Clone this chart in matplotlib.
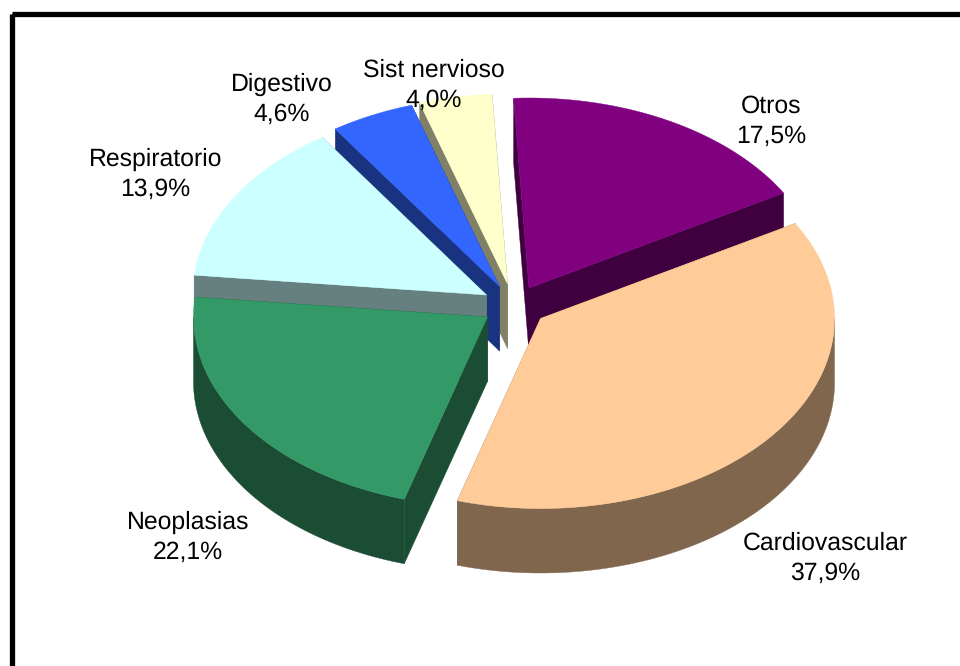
import numpy as np
import matplotlib
matplotlib.use("Agg")
import matplotlib.pyplot as plt
from matplotlib.patches import Polygon, Rectangle

plt.rcParams["text.hinting"] = "none"

categories = ["Otros", "Cardiovascular", "Neoplasias", "Respiratorio", "Digestivo", "Sist nervioso"]
values = [17.5, 37.9, 22.1, 13.9, 4.6, 4.0]
value_labels = ["17,5%", "37,9%", "22,1%", "13,9%", "4,6%", "4,0%"]
top_colors = ["#800080", "#FFCC99", "#339966", "#CCFFFF", "#3366FF", "#FFFFCC"]
side_colors = ["#400040", "#80664D", "#1A4D33", "#668080", "#1A3380", "#808066"]
# slice apex on screen (exploded pie), pixels
apex_x = [529, 540.5, 487.5, 486.5, 499.5, 507.5]
apex_y = [288, 318.5, 317, 295, 286.5, 284]
label_x = [771, 825, 188, 155.5, 282, 434]
label_y = [121, 558, 537, 174, 99, 85]
draw_order = [5, 4, 0, 3, 2, 1]

START = -3.0
RX, RY, DEPTH = 294.0, 190.0, 64.5

fig = plt.figure(figsize=(9.6, 6.66), dpi=100)
ax = fig.add_axes([0, 0, 1, 1])
ax.set_xlim(0, 960)
ax.set_ylim(666, 0)
ax.axis("off")

ax.add_patch(Rectangle((12.0, 14.3), 1000, 1000, fill=False, ec="black", lw=3.8,
                       joinstyle="miter"))

fractions = np.array(values) / np.sum(values)
edges = START + 360 * np.concatenate([[0], np.cumsum(fractions)])


def arc(i, a0, a1):
    t = np.radians(np.linspace(a0, a1, max(int(abs(a1 - a0) * 2), 2)))
    return apex_x[i] + RX * np.sin(t), apex_y[i] - RY * np.cos(t)


for i in draw_order:
    a0, a1 = edges[i], edges[i + 1]
    x, y = arc(i, a0, a1)
    ax_, ay_ = apex_x[i], apex_y[i]
    # radial walls
    for xe, ye in ((x[0], y[0]), (x[-1], y[-1])):
        pts = [(ax_, ay_), (xe, ye), (xe, ye + DEPTH), (ax_, ay_ + DEPTH)]
        ax.add_patch(Polygon(pts, closed=True, fc=side_colors[i], ec=side_colors[i], lw=0.3))
    # outer wall for front-facing part of the rim
    lo, hi = max(a0, 90), min(a1, 270)
    if hi > lo:
        wx, wy = arc(i, lo, hi)
        pts = np.r_[np.c_[wx, wy], np.c_[wx[::-1], wy[::-1] + DEPTH]]
        ax.add_patch(Polygon(pts, closed=True, fc=side_colors[i], ec=side_colors[i], lw=0.3))
    # top face
    pts = np.r_[[(ax_, ay_)], np.c_[x, y]]
    ax.add_patch(Polygon(pts, closed=True, fc=top_colors[i], ec=top_colors[i], lw=0.3))

for i, name in enumerate(categories):
    ax.text(label_x[i], label_y[i], f"{name}\n{value_labels[i]}", ha="center", va="center",
            family="Liberation Sans", fontsize=17.8, color="black", linespacing=1.38)

fig.savefig("out.png", dpi=100, facecolor="white")
